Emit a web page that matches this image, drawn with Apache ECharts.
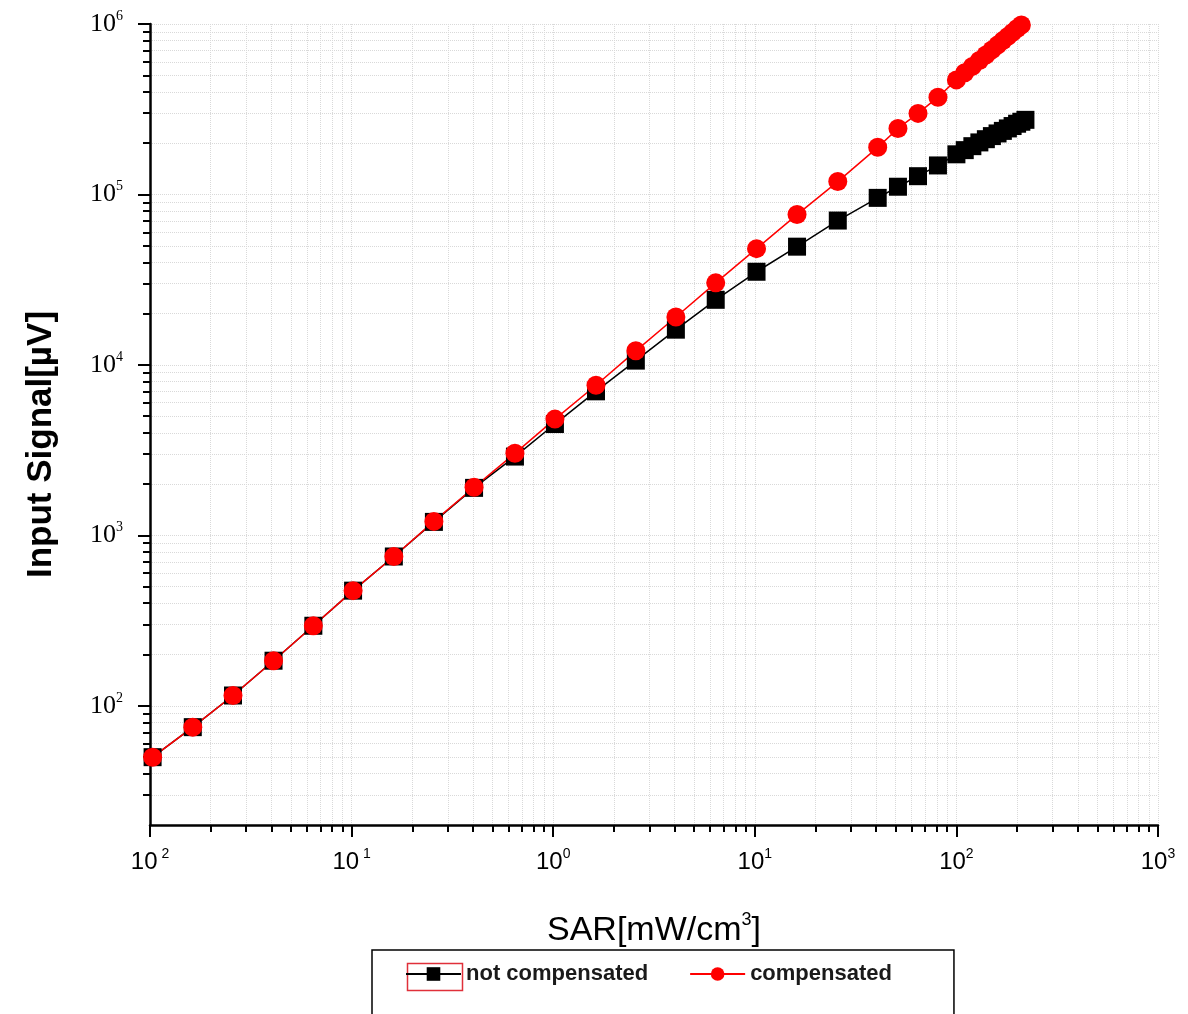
<!DOCTYPE html>
<html>
<head>
<meta charset="utf-8">
<script src="https://cdn.jsdelivr.net/npm/echarts@6/dist/echarts.min.js"></script>
<style>
  html, body { margin: 0; padding: 0; background: #fff; }
  #chart { width: 1188px; height: 1014px; }
</style>
</head>
<body>
<div id="chart"></div>
<script>
// SAR values (x), shared by both series
const sar = [0.0103, 0.0163, 0.0258, 0.041, 0.0646, 0.1017, 0.162, 0.256, 0.405, 0.646,
  1.02, 1.63, 2.57, 4.06, 6.4, 10.2, 16.2, 25.8, 40.7, 51.3, 64.5, 81,
  100, 110, 120, 130, 140, 150, 160, 170, 180, 190, 200, 210, 220]
const notCompensated = [50, 75, 115, 184, 295, 474, 752, 1200, 1900, 2900,
  4500, 7000, 10600, 16100, 24100, 35200, 49400, 70300, 95500, 111000, 128000, 148000,
  172000, 182000, 192000, 202000, 211000, 220000, 228000, 236000, 244000, 252000, 260000, 267000, 274000]
const compensated = [50, 75, 115, 184, 295, 474, 752, 1208, 1915, 3030,
  4810, 7600, 12100, 19100, 30300, 48100, 76200, 119000, 189000, 244000, 299000, 372000,
  470000, 517000, 564000, 611000, 658000, 705000, 752000, 799000, 846000, 893000, 940000, 987000, 1034000]
const seriesNames = ['not compensated', 'compensated']
// exponents shown under the x axis (the minus signs are lost in the original)
const xTickText = { '-2': ' 2', '-1': ' 1', '0': '0', '1': '1', '2': '2', '3': '3' }

// minor tick positions 2..9 of every decade
function minorValues (lo, hi) {
  let out = []
  for (let e = lo; e < hi; e++) {
    for (let k = 2; k <= 9; k++) out.push(k * Math.pow(10, e))
  }
  return out
}

function toPairs (ys) {
  return sar.map(function (x, i) { return [x, ys[i]] })
}

// only label whole decades
function decade (v) {
  let e = Math.round(Math.log10(v))
  return Math.abs(Math.log10(v) - e) > 1e-6 ? null : e
}

const gridLine = { show: true, lineStyle: { color: '#d9d9d9', type: 'dotted', width: 1 } }

let myChart = echarts.init(document.getElementById('chart'))
let option = {
  animation: false,
  backgroundColor: '#fff',
  grid: { left: 150, right: 30, top: 24, bottom: 189 },
  legend: {
    left: 372,
    top: 950,
    padding: [13, 62, 40, 33],
    borderColor: '#000',
    borderWidth: 1.5,
    itemWidth: 55,
    itemHeight: 17,
    itemGap: 41,
    textStyle: { fontSize: 22, fontWeight: 'bold', color: '#1a1a1a', fontFamily: 'Liberation Sans' },
    data: seriesNames
  },
  xAxis: [{
    type: 'log',
    min: 0.01,
    max: 1000,
    name: '{a|SAR[mW/cm}{s|3}{a|]}',
    nameLocation: 'middle',
    nameGap: 86,
    nameTextStyle: {
      rich: {
        a: { fontSize: 34, fontFamily: 'Liberation Sans', color: '#000', lineHeight: 40 },
        s: { fontSize: 18, fontFamily: 'Liberation Sans', color: '#000', verticalAlign: 'top', lineHeight: 40 }
      }
    },
    axisLine: { lineStyle: { color: '#000', width: 2.5 } },
    axisTick: { length: 12, lineStyle: { color: '#000', width: 2 } },
    axisLabel: {
      margin: 22,
      formatter: function (v) {
        let e = decade(v)
        return e === null ? '' : '{b|10}{s|' + xTickText[e] + '}'
      },
      rich: {
        b: { fontSize: 24, fontFamily: 'Liberation Sans', color: '#000', lineHeight: 30 },
        s: { fontSize: 14, fontFamily: 'Liberation Sans', color: '#000', verticalAlign: 'top', lineHeight: 30 }
      }
    },
    splitLine: gridLine
  }, {
    // minor ticks and minor grid
    type: 'log',
    min: 0.01,
    max: 1000,
    position: 'bottom',
    axisLine: { show: false },
    axisTick: { length: 7, customValues: minorValues(-2, 3), lineStyle: { color: '#000', width: 2 } },
    axisLabel: { show: false },
    splitLine: gridLine
  }],
  yAxis: [{
    type: 'log',
    min: 20,
    max: 1000000,
    name: 'Input Signal[µV]',
    nameLocation: 'middle',
    nameGap: 91,
    nameTextStyle: { fontSize: 35, fontWeight: 'bold', fontFamily: 'Liberation Sans', color: '#000', padding: [0, 40, 0, 0] },
    axisLine: { show: true, lineStyle: { color: '#000', width: 2.5 } },
    axisTick: { show: true, length: 12, lineStyle: { color: '#000', width: 2 } },
    axisLabel: {
      margin: 27,
      showMinLabel: false,
      formatter: function (v) {
        let e = decade(v)
        return e === null ? '' : '{b|10}{s|' + e + '}'
      },
      rich: {
        b: { fontSize: 26, fontFamily: 'Liberation Serif', color: '#000', lineHeight: 30 },
        s: { fontSize: 14, fontFamily: 'Liberation Serif', color: '#000', verticalAlign: 'top', lineHeight: 30 }
      }
    },
    splitLine: gridLine
  }, {
    type: 'log',
    min: 20,
    max: 1000000,
    position: 'left',
    axisLine: { show: false },
    axisTick: { show: true, length: 7, customValues: minorValues(1, 6).filter(function (v) { return v > 20 }), lineStyle: { color: '#000', width: 2 } },
    axisLabel: { show: false },
    splitLine: gridLine
  }],
  series: [{
    name: seriesNames[0],
    type: 'line',
    data: toPairs(notCompensated),
    symbol: 'rect',
    symbolSize: 18,
    itemStyle: { color: '#000' },
    lineStyle: { color: '#000', width: 1.5 }
  }, {
    name: seriesNames[1],
    type: 'line',
    data: toPairs(compensated),
    symbol: 'circle',
    symbolSize: 19,
    itemStyle: { color: '#ff0000' },
    lineStyle: { color: '#ff0000', width: 1.5 }
  }],
  graphic: [{
    // red frame round the first legend symbol
    type: 'rect',
    left: 405,
    top: 961,
    shape: { width: 55, height: 27 },
    style: { fill: 'none', stroke: '#e0303a', lineWidth: 1.5 }
  }]
}
myChart.setOption(option)
</script>
</body>
</html>
